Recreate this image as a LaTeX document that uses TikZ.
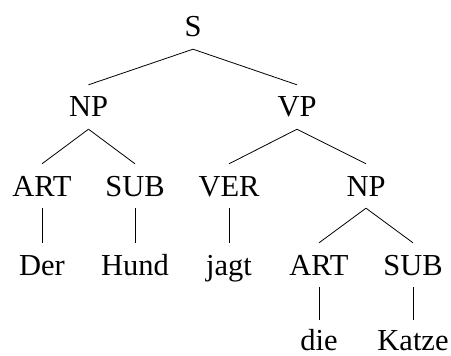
\documentclass[tikz,border=0pt]{standalone}
\usepackage{fontspec}
\setmainfont{Liberation Serif}
\begin{document}
\begin{tikzpicture}[x=1pt,y=-1pt,
  cat/.style={anchor=base, inner xsep=0pt, inner ysep=12pt, text height=20pt, text depth=0pt, font=\fontsize{30.5}{36}\selectfont},
  leaf/.style={cat, inner ysep=0pt},
  edge/.style={line width=0.8pt}]
\useasboundingbox (0,0) rectangle (451,356);
\node[cat] (S) at (193,37) {S};
\node[cat] (NP) at (88.5,117) {NP};
\node[cat] (VP) at (297,117) {VP};
\node[cat] (ART) at (42,196) {ART};
\node[cat] (SUB) at (135,196) {SUB};
\node[cat] (VER) at (229,196) {VER};
\node[cat] (NPb) at (366,196) {NP};
\node[cat] (Der) at (42,275) {Der};
\node[cat] (Hund) at (135,275) {Hund};
\node[cat] (jagt) at (229,275) {jagt};
\node[cat] (ARTb) at (319,275) {ART};
\node[cat] (SUBb) at (413,275) {SUB};
\node[leaf] (die) at (319,350) {die};
\node[leaf] (Katze) at (413,350) {Katze};
\draw[edge] (S.south) -- (NP.north);
\draw[edge] (S.south) -- (VP.north);
\draw[edge] (NP.south) -- (ART.north);
\draw[edge] (NP.south) -- (SUB.north);
\draw[edge] (VP.south) -- (VER.north);
\draw[edge] (VP.south) -- (NPb.north);
\draw[edge] (ART.south) -- (Der.north);
\draw[edge] (SUB.south) -- (Hund.north);
\draw[edge] (VER.south) -- (jagt.north);
\draw[edge] (NPb.south) -- (ARTb.north);
\draw[edge] (NPb.south) -- (SUBb.north);
\draw[edge] (ARTb.south) -- ([yshift=10pt]die.north);
\draw[edge] (SUBb.south) -- ([yshift=10pt]Katze.north);
\end{tikzpicture}
\end{document}
